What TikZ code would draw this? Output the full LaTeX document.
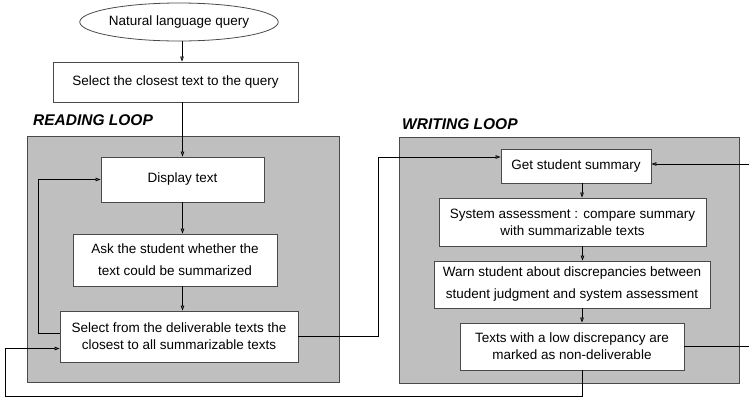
\documentclass[tikz,border=0pt]{standalone}
\usepackage{fontspec}
\setmainfont{Liberation Sans}
\usepackage{tikz}
\usetikzlibrary{shapes.geometric,arrows.meta,positioning}
\definecolor{loopgray}{HTML}{BFBFBF}
\definecolor{edgegray}{HTML}{4A4A4A}
\tikzset{
  stepbox/.style={draw=edgegray, fill=white, line width=0.8pt, inner sep=0pt, align=center,
    font=\fontsize{13.5}{17}\selectfont},
  loopbox/.style={draw=edgegray, fill=loopgray, line width=0.8pt},
  looptitle/.style={anchor=west, inner sep=0pt, font=\fontsize{15.5}{18}\selectfont\bfseries\itshape},
  arr/.style={-{Triangle[open,length=5pt,width=3.5pt]}, line width=0.8pt},
  plain/.style={line width=0.8pt}
}
\begin{document}
\begin{tikzpicture}[x=1pt, y=-1pt]
				\useasboundingbox (0,0) rectangle (749,400);
				% the two loops
				\node (rloop) [loopbox, minimum width=312, minimum height=246] at (183,259) {};
				\node (wloop) [loopbox, minimum width=340, minimum height=246] at (569,260) {};
				\node (rtitle) [looptitle] at (33,120) {READING LOOP};
				\node (wtitle) [looptitle] at (402,124) {WRITING LOOP};
				% steps
				\node (query) [draw=edgegray, line width=0.8pt, ellipse, inner sep=0pt, minimum width=170, minimum height=38,
					font=\fontsize{13.5}{17}\selectfont] at (179,22) {Natural language query};
				\node (sel) [stepbox, minimum width=245, minimum height=40] at (175.5,82) {Select the closest text to the query};
				\node (disp) [stepbox, minimum width=163, minimum height=45] at (182.5,179.5) {Display text};
				\node (ask) [stepbox, minimum width=204, minimum height=52] at (175,260) {Ask the student whether the\\[5pt]text could be summarized};
				\node (deliv) [stepbox, minimum width=238, minimum height=51] at (179,336.5) {Select from the deliverable texts the\\closest to all summarizable texts};
				\node (getsum) [stepbox, minimum width=150, minimum height=34] at (576,166) {Get student summary};
				\node (assess) [stepbox, minimum width=267, minimum height=48] at (572.5,222) {System assessment : compare summary\\with summarizable texts};
				\node (warn) [stepbox, minimum width=276, minimum height=47] at (572,284.5) {Warn student about discrepancies between\\[5pt]student judgment and system assessment};
				\node (lowdisc) [stepbox, minimum width=224, minimum height=47] at (572,346.5) {Texts with a low discrepancy are\\marked as non-deliverable};
				\coordinate (rt1) at (749,164);
				\coordinate (rt2) at (749,346.5);
				% flow
				\draw[arr] ([xshift=3pt]query.south) -- ([xshift=3pt]query.south |- sel.north);
				\draw[arr] (disp.north |- sel.south) -- (disp.north);
				\draw[arr] (disp.south) -- (disp.south |- ask.north);
				\draw[arr] (disp.south |- ask.south) -- (disp.south |- deliv.north);
				\draw[arr] ([yshift=3.5pt]deliv.west) -- ++(-21,0) |- (disp.west);
				\draw[arr] (deliv.east) -- ++(80,0) |- ([yshift=9pt]getsum.west);
				\draw[arr] ([xshift=6pt]getsum.south) -- ([xshift=6pt]getsum.south |- assess.north);
				\draw[arr] ([xshift=10pt]assess.south) -- ([xshift=10pt]assess.south |- warn.north);
				\draw[arr] ([xshift=10pt]warn.south) -- ([xshift=10pt]warn.south |- lowdisc.north);
				\draw[arr] ([xshift=10pt]lowdisc.south) |- (5,396) |- ([yshift=-12pt]deliv.west);
				\draw[arr] (rt1) -- ([yshift=2pt]getsum.east);
				\draw[plain] (lowdisc.east) -- (rt2);
			\end{tikzpicture}
\end{document}
